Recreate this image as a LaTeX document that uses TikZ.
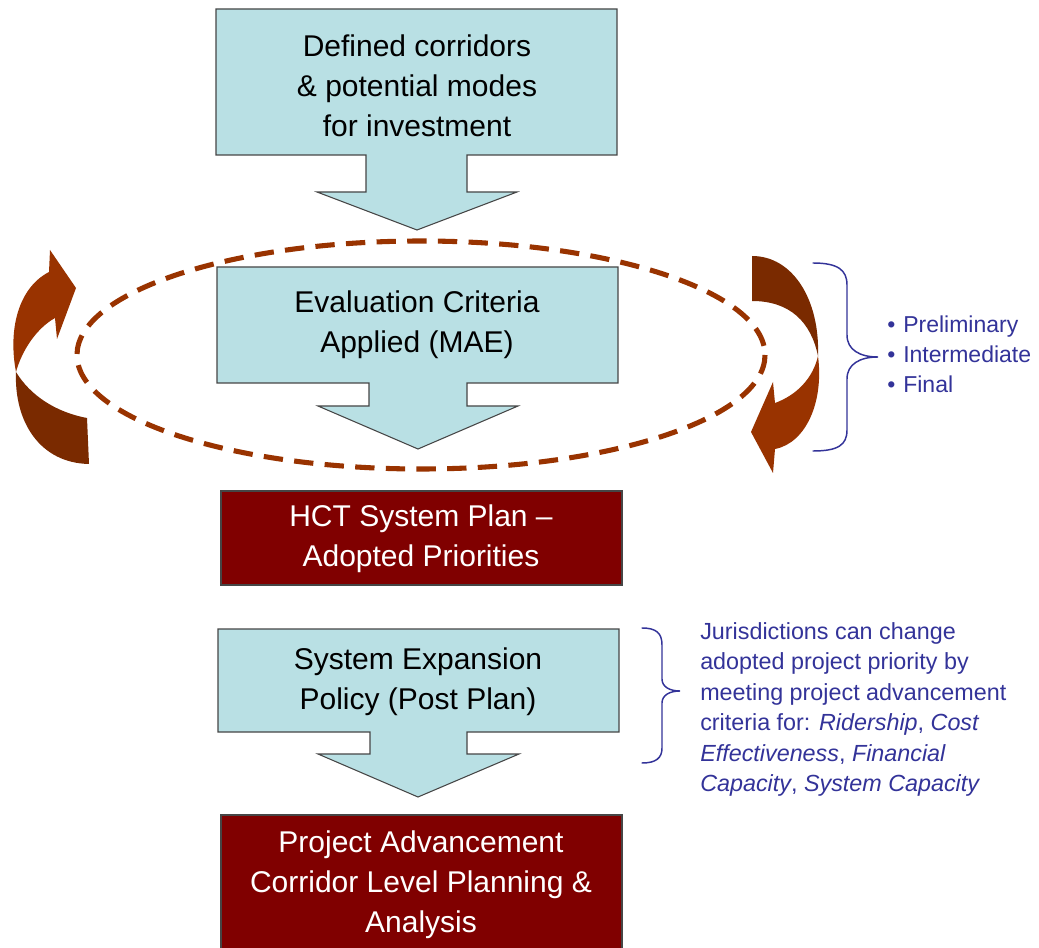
\documentclass[tikz,border=0pt]{standalone}
\usepackage{fontspec}
\setmainfont{Liberation Sans}
\definecolor{calloutfill}{RGB}{185,224,228}
\definecolor{boxred}{RGB}{128,0,0}
\definecolor{rust}{RGB}{153,51,0}
\definecolor{rustdark}{RGB}{122,42,0}
\definecolor{navy}{RGB}{51,51,153}
\definecolor{edgegray}{RGB}{70,70,70}
\tikzset{
  callout/.style={fill=calloutfill, draw=edgegray, line width=0.8pt, line join=miter},
  redbox/.style={fill=boxred, draw=edgegray, line width=0.8pt},
  maintext/.style={align=center, font=\fontsize{22.5}{30}\selectfont, text=black, inner sep=0pt},
  whitetext/.style={maintext, text=white},
  bluetext/.style={align=left, font=\fontsize{17.5}{22.9}\selectfont, text=navy, inner sep=0pt},
  bulletext/.style={align=left, font=\fontsize{17.25}{22.5}\selectfont, text=navy, inner sep=0pt},
  bracestyle/.style={draw=navy, line width=1.1pt, line cap=round},
  loopring/.style={draw=rust, line width=3.8pt, dash pattern=on 14.5pt off 8.5pt},
  arrowlight/.style={fill=rust},
  arrowdark/.style={fill=rustdark},
}
\begin{document}
\begin{tikzpicture}[x=0.75pt,y=-0.75pt]
\useasboundingbox (0,0) rectangle (1039,948);
\fill[white] (0,0) rectangle (1039,948);

% dashed ellipse
\draw[loopring] (421,355) ellipse [x radius=344, y radius=114];

% left curved arrow (upwards)
\fill[arrowdark] (16,372) .. controls (14,422) and (40,463) .. (89,464) -- (87,418)
   .. controls (55,412) and (30,395) .. (16,372) -- cycle;
\fill[arrowlight] (49,272) -- (50,250) -- (76,288) -- (57,339) -- (55,318)
   .. controls (37,328) and (22,350) .. (16,372)
   .. controls (8,330) and (18,288) .. (49,272) -- cycle;

% right curved arrow (downwards)
\fill[arrowdark] (752,256) .. controls (793,256) and (820,300) .. (818,356)
   .. controls (811,322) and (790,301) .. (752,301) -- cycle;
\fill[arrowlight] (818,356) .. controls (824,402) and (806,443) .. (775,449)
   -- (773,473) -- (751,432) -- (773,382) -- (775,403)
   .. controls (797,395) and (813,378) .. (818,356) -- cycle;

% callout 1
\path[callout] (216,9) -- (617,9) -- (617,155) -- (467,155) -- (467,192) -- (517,192)
   -- (417,230) -- (317,192) -- (366,192) -- (366,155) -- (216,155) -- cycle;
\node[maintext] (defined) at (417,86) {Defined corridors\\\& potential modes\\for investment};

% callout 2
\path[callout] (217,267) -- (618,267) -- (618,383) -- (467,383) -- (467,406) -- (518,406)
   -- (418,449) -- (318,406) -- (369,406) -- (369,383) -- (217,383) -- cycle;
\node[maintext] (eval) at (417,325) {Evaluation Criteria\\Applied (MAE)};

% HCT box
\path[redbox] (221,491) rectangle (622,585);
\node[whitetext] (hct) at (421,539) {HCT System Plan –\\Adopted Priorities};

% callout 3
\path[callout] (218,629) -- (619,629) -- (619,732) -- (467,732) -- (467,754) -- (519,754)
   -- (418,797) -- (318,754) -- (370,754) -- (370,732) -- (218,732) -- cycle;
\node[maintext] (sep) at (418,682) {System Expansion\\Policy (Post Plan)};

% project box (cut by page edge)
\begin{scope}
\clip (0,0) rectangle (1039,948);
\path[redbox] (221,815) rectangle (622,960);
\end{scope}
\node[whitetext] (proj) at (421,885) {Project Advancement\\Corridor Level Planning \&\\Analysis};

% brace 1 and stages
\draw[bracestyle] (813,263) .. controls (838,263) and (847,270) .. (847,285) -- (847,335)
   .. controls (847,350) and (860,357) .. (878,357)
   .. controls (860,357) and (847,364) .. (847,379) -- (847,430)
   .. controls (847,445) and (838,451) .. (813,451);
\node[bulletext, anchor=west] (stages) at (887,354)
  {\textbullet\hspace{6pt}Preliminary\\\textbullet\hspace{6pt}Intermediate\\\textbullet\hspace{6pt}Final};

% brace 2 and note
\draw[bracestyle] (642,628) .. controls (656,628) and (662,633) .. (662,645) -- (662,679)
   .. controls (662,687) and (670,691) .. (680,691)
   .. controls (670,691) and (662,695) .. (662,703) -- (662,748)
   .. controls (662,758) and (656,763) .. (642,763);
\node[bluetext, anchor=north west] (jur) at (700,622)
  {Jurisdictions can change\\adopted project priority by\\meeting project advancement\\criteria for: \textit{Ridership}, \textit{Cost}\\\textit{Effectiveness}, \textit{Financial}\\\textit{Capacity}, \textit{System Capacity}};
\end{tikzpicture}
\end{document}
